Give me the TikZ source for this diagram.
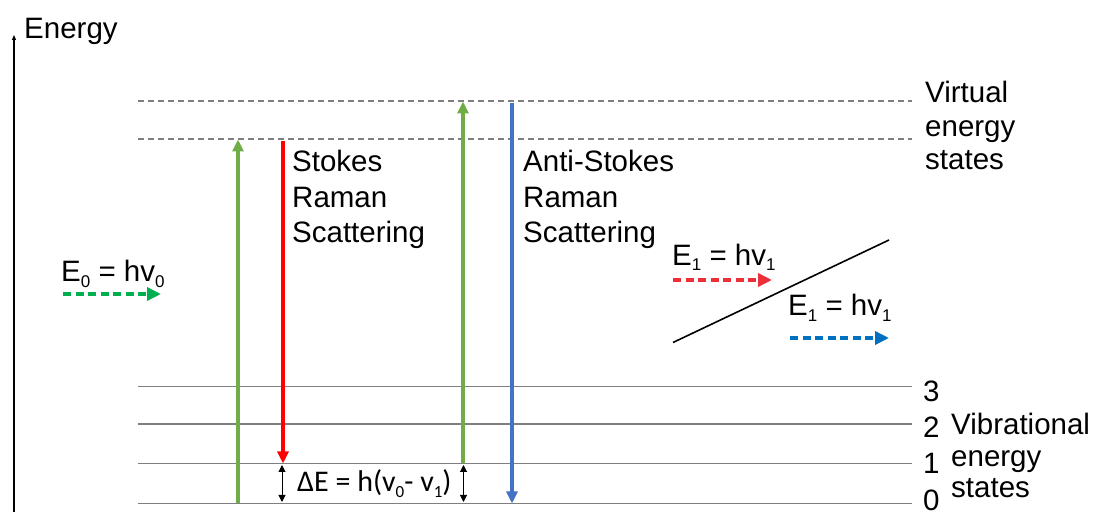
\documentclass[tikz,border=0pt]{standalone}
\usepackage{fontspec}
\setmainfont{Liberation Sans}
\newfontfamily\calfont{Carlito}
\usetikzlibrary{arrows.meta}
\definecolor{pumpgreen}{HTML}{70AD47}
\definecolor{stokesred}{HTML}{FF0000}
\definecolor{antiblue}{HTML}{4472C4}
\definecolor{photongreen}{HTML}{00B050}
\definecolor{photonred}{HTML}{EC2F3B}
\definecolor{photonblue}{HTML}{0070C0}
\definecolor{levelgray}{HTML}{7F7F7F}
\newcommand{\lowsub}[1]{\raisebox{-5.5pt}{\fontsize{17}{17}\selectfont #1}}
\tikzset{
  txt/.style={font=\fontsize{29.5}{35.5}\selectfont, inner sep=0pt, anchor=base west},
  vlevel/.style={levelgray, line width=1.4pt},
  virt/.style={levelgray, line width=1.2pt, dash pattern=on 6pt off 4pt},
  transition/.style={line width=3.2pt, -{Triangle[width=11pt,length=12pt]}},
  photon/.style={line width=3.4pt, dash pattern=on 8pt off 4.5pt, -{Triangle[width=13pt,length=14pt]}},
  gap/.style={line width=1pt, {Triangle[width=7pt,length=7pt]}-{Triangle[width=7pt,length=7pt]}},
}
\begin{document}
\begin{tikzpicture}[x=1pt,y=-1pt]
\useasboundingbox (0,0) rectangle (1093,518);

% energy axis
\coordinate (axb) at (14,512);
\coordinate (axt) at (14,35);
\draw[line width=1.1pt, -{Triangle[width=4pt,length=5pt]}] (axb) -- (axt);
\node[txt] (energy) at (24,39) {Energy};

% virtual levels
\coordinate (va) at (138,101); \coordinate (vae) at (912,101);
\coordinate (vb) at (138,139); \coordinate (vbe) at (912,139);
\draw[virt] (va) -- (vae);
\draw[virt] (vb) -- (vbe);

% vibrational levels
\foreach \n/\y in {3/386.5,2/424,1/463.5,0/503.5}{
  \coordinate (l\n) at (138,\y);
  \coordinate (l\n e) at (912,\y);
  \draw[vlevel] (l\n) -- (l\n e);
}
\node[txt] (n3) at (923,401.5) {3};
\node[txt] (n2) at (923,438) {2};
\node[txt] (n1) at (923,473.5) {1};
\node[txt] (n0) at (923,510.5) {0};

\node[txt] (vt1) at (925,103) {Virtual};
\node[txt] (vt2) at (925,136.5) {energy};
\node[txt] (vt3) at (925,170) {states};

\node[txt] (vb1) at (951,435) {Vibrational};
\node[txt] (vb2) at (951,466.5) {energy};
\node[txt] (vb3) at (951,498) {states};

% Stokes branch
\coordinate (gs0) at (238,503.5); \coordinate (gs1) at (238,139.5);
\draw[transition, pumpgreen] (gs0) -- (gs1);
\coordinate (rs0) at (283,141); \coordinate (rs1) at (283,463.5);
\draw[transition, stokesred] (rs0) -- (rs1);
\node[txt] (st1) at (292,172) {Stokes};
\node[txt] (st2) at (292,207.5) {Raman};
\node[txt] (st3) at (292,243) {Scattering};

% anti-Stokes branch
\coordinate (ga0) at (463,463.5); \coordinate (ga1) at (463,101.5);
\draw[transition, pumpgreen] (ga0) -- (ga1);
\coordinate (ba0) at (512,103); \coordinate (ba1) at (512,503.5);
\draw[transition, antiblue] (ba0) -- (ba1);
\node[txt] (as1) at (523,172) {Anti-Stokes};
\node[txt] (as2) at (523,207.5) {Raman};
\node[txt] (as3) at (523,243) {Scattering};

% energy gap markers
\coordinate (da0) at (282,465); \coordinate (da1) at (282,502);
\draw[gap] (da0) -- (da1);
\coordinate (db0) at (463.5,465); \coordinate (db1) at (463.5,502);
\draw[gap] (db0) -- (db1);
\node[txt, font=\calfont\fontsize{30}{36}\selectfont] (de) at (297,492)
  {ΔE = h(v\lowsub{0}- v\lowsub{1})};

% incident photon
\node[txt] (e0) at (61,282) {E\lowsub{0} = hv\lowsub{0}};
\coordinate (p0a) at (63,294); \coordinate (p0b) at (161,294);
\draw[photon, photongreen] (p0a) -- (p0b);

% sample surface
\coordinate (sa) at (673,342.5); \coordinate (sb) at (889,240);
\draw[line width=1.6pt] (sa) -- (sb);

% scattered photons
\node[txt] (e1r) at (672,265.5) {E\lowsub{1} = hv\lowsub{1}};
\coordinate (p1a) at (673,280); \coordinate (p1b) at (772,280);
\draw[photon, photonred] (p1a) -- (p1b);

\node[txt] (e1b) at (788,316) {E\lowsub{1} = hv\lowsub{1}};
\coordinate (p2a) at (790,338); \coordinate (p2b) at (889,338);
\draw[photon, photonblue] (p2a) -- (p2b);
\end{tikzpicture}
\end{document}
